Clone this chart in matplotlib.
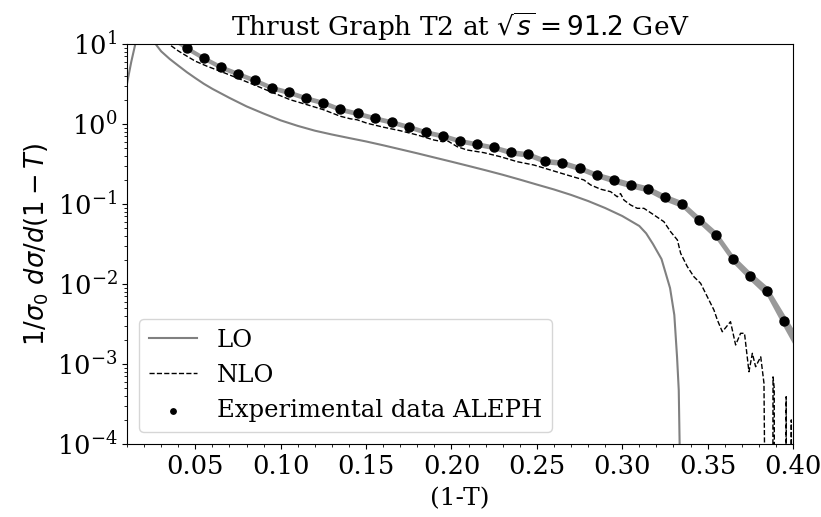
import numpy as np
import matplotlib
matplotlib.use("Agg")
import matplotlib.pyplot as plt
from matplotlib.ticker import MultipleLocator

# ---- data ------------------------------------------------------------------
# LO curve (ends at the 1/3 kinematic limit)
lo_x = [0.010, 0.0125, 0.015, 0.020, 0.025, 0.0275, 0.030, 0.035, 0.040, 0.045,
        0.050, 0.055, 0.060, 0.070, 0.080, 0.090, 0.100, 0.110, 0.120, 0.130,
        0.140, 0.150, 0.160, 0.170, 0.180, 0.190, 0.200, 0.210, 0.220, 0.230,
        0.240, 0.250, 0.260, 0.270, 0.280, 0.290, 0.300, 0.310, 0.314, 0.318,
        0.323, 0.328, 0.3305, 0.3321, 0.3331, 0.3336, 0.3338]
lo_y = [3.2, 6.0, 10.3, 16.0, 11.3, 9.5, 8.1, 6.5, 5.37, 4.45,
        3.75, 3.18, 2.75, 2.12, 1.66, 1.35, 1.11, 0.947, 0.825, 0.739,
        0.668, 0.605, 0.542, 0.483, 0.430, 0.381, 0.338, 0.299, 0.264, 0.232,
        0.202, 0.175, 0.152, 0.130, 0.109, 0.0891, 0.0708, 0.0531, 0.0430, 0.0316,
        0.0205, 0.0089, 0.0041, 0.00122, 0.00047, 0.000103, 1e-7]

# NLO curve
nlo_x = [0.030, 0.035, 0.040, 0.0452, 0.050, 0.0569, 0.0647, 0.0745, 0.0842, 0.0959,
         0.1056, 0.1155, 0.125, 0.1349, 0.1409, 0.1447, 0.1507, 0.1604, 0.170, 0.180,
         0.1897, 0.195, 0.1975, 0.2034, 0.2092, 0.219, 0.2287, 0.2385, 0.2483, 0.258,
         0.2678, 0.2775, 0.2815, 0.2874, 0.2932, 0.2971, 0.2990, 0.3010, 0.3049, 0.3088,
         0.3127, 0.3186, 0.3244, 0.3283, 0.3323, 0.3342, 0.3381, 0.3420, 0.3459, 0.3498,
         0.3537, 0.3557, 0.3586, 0.3634, 0.3664, 0.3693, 0.3716, 0.3742, 0.3762, 0.3781,
         0.3811, 0.3830, 0.3845, 0.3880, 0.3883, 0.3890, 0.3893, 0.3955, 0.3960, 0.3965,
         0.3985, 0.3990, 0.3995, 0.4010]
nlo_y = [13.0, 9.8, 8.2, 7.02, 6.1, 5.27, 4.56, 3.76, 3.10, 2.44,
         2.01, 1.74, 1.51, 1.25, 1.16, 1.13, 1.02, 0.91, 0.824, 0.729,
         0.631, 0.600, 0.620, 0.520, 0.473, 0.438, 0.390, 0.338, 0.307, 0.266,
         0.230, 0.200, 0.173, 0.153, 0.1425, 0.123, 0.135, 0.112, 0.0972, 0.0883,
         0.0883, 0.0729, 0.0601, 0.0451, 0.0355, 0.0242, 0.0165, 0.0123, 0.0102, 0.00694,
         0.00473, 0.00355, 0.00253, 0.00338, 0.00173, 0.00242, 0.00242, 0.00080, 0.00136, 0.000925,
         0.00123, 0.000574, 1e-7, 1e-7, 0.00069, 0.0005, 1e-7, 1e-7, 0.00039, 1e-7,
         1e-7, 0.0002, 1e-7, 1e-7]

# ALEPH data (bin centres), points outside the frame are clipped
aleph_x = [0.035, 0.045, 0.055, 0.065, 0.075, 0.085, 0.095, 0.105, 0.115, 0.125,
           0.135, 0.145, 0.155, 0.165, 0.175, 0.185, 0.195, 0.205, 0.215, 0.225,
           0.235, 0.245, 0.255, 0.265, 0.275, 0.285, 0.295, 0.305, 0.315, 0.325,
           0.335, 0.345, 0.355, 0.365, 0.375, 0.385, 0.395, 0.405]
aleph_y = [12.5, 8.9, 6.68, 5.16, 4.25, 3.52, 2.84, 2.49, 2.11, 1.85,
           1.53, 1.36, 1.19, 1.06, 0.925, 0.794, 0.714, 0.618, 0.562, 0.511,
           0.443, 0.418, 0.345, 0.328, 0.282, 0.232, 0.200, 0.174, 0.155, 0.121,
           0.100, 0.0637, 0.041, 0.0205, 0.0126, 0.0081, 0.00345, 0.0015]
aleph_err = [0.07, 0.07, 0.07, 0.07, 0.07, 0.07, 0.07, 0.07, 0.07, 0.07,
             0.07, 0.07, 0.07, 0.07, 0.07, 0.07, 0.07, 0.07, 0.07, 0.07,
             0.08, 0.08, 0.08, 0.08, 0.08, 0.08, 0.09, 0.09, 0.09, 0.10,
             0.10, 0.11, 0.12, 0.12, 0.13, 0.15, 0.20, 0.24]

plt.rcParams['font.family'] = 'serif'
plt.rcParams['font.serif'] = ['DejaVu Serif']

fig = plt.figure(figsize=(8.21, 5.17), dpi=100)
ax = fig.add_axes([0.1547, 0.1412, 0.9659 - 0.1547, 0.9149 - 0.1412])

ay = np.array(aleph_y)
ae = np.array(aleph_err)
ax.fill_between(aleph_x, ay * (1 - ae), ay * (1 + ae), color='gray', alpha=0.8, lw=0)
ax.plot(lo_x, lo_y, color='gray', lw=1.5, label='LO')
ax.plot(nlo_x, nlo_y, color='black', lw=1.0, ls='--', label='NLO')
ax.scatter(aleph_x, aleph_y, s=42, color='black', zorder=3,
           label='Experimental data ALEPH')

ax.set_yscale('log')
ax.set_xlim(0.01, 0.40)
ax.set_ylim(1e-4, 10)
ax.xaxis.set_major_locator(MultipleLocator(0.05))
ax.xaxis.set_minor_locator(MultipleLocator(0.01))
ax.tick_params(labelsize=18.5)

ax.set_title(r'Thrust Graph T2 at $\sqrt{s} = 91.2$ GeV', fontsize=19)
ax.set_xlabel('(1-T)', fontsize=18, labelpad=6)
ax.set_ylabel(r'$1/\sigma_0\ d\sigma/d(1-T)$', fontsize=18.5)
ax.legend(loc='lower left', fontsize=17.5, markerscale=0.6)

fig.savefig('out.png', dpi=100)
